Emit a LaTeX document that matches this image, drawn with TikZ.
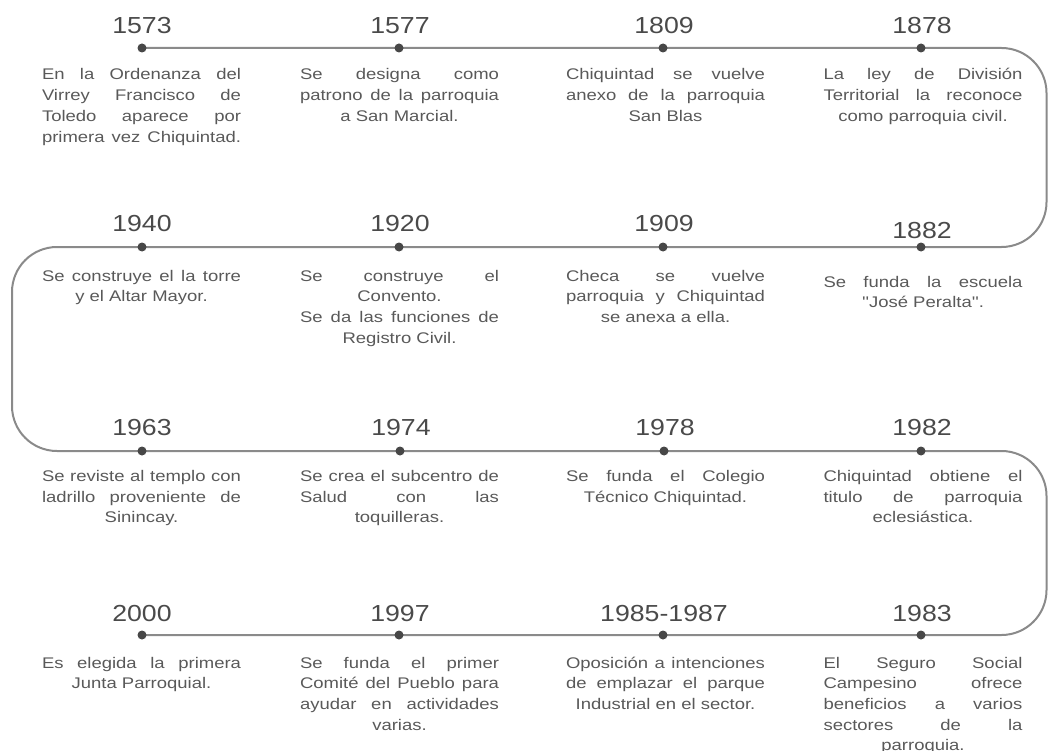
\documentclass[tikz,border=0pt]{standalone}
\usepackage{fontspec}
\newfontfamily\bodyfont[FakeStretch=1.2]{Liberation Sans}
\newfontfamily\yrfont[FakeStretch=1.15]{Liberation Sans}
\newlength{\tw}
\setlength{\tw}{199pt}
\newcommand{\J}[1]{\makebox[\tw][s]{#1}}
\newcommand{\C}[1]{\makebox[\tw][c]{#1}}
\newcommand{\F}{\rule{0pt}{13pt}}
\hbadness=10000
\hfuzz=20pt
\definecolor{linegray}{HTML}{8A8A8A}
\definecolor{dotgray}{HTML}{474747}
\definecolor{yeargray}{HTML}{4A4A4A}
\definecolor{textgray}{HTML}{595959}
\tikzset{
  tl/.style={draw=linegray, line width=2pt, rounded corners=45pt},
  dotnode/.style={circle, fill=dotgray, inner sep=0pt, minimum size=9pt},
  yearnode/.style={anchor=base, inner sep=0pt, text=yeargray, font=\yrfont\fontsize{23.2}{26}\selectfont},
  descnode/.style={anchor=north, inner sep=0pt, outer sep=0pt, align=center, text=textgray, font=\bodyfont\fontsize{15.4}{20.7}\selectfont}
}
\begin{document}
\begin{tikzpicture}[x=1pt,y=-1pt]
\useasboundingbox (0,0) rectangle (1048,751);
% positions
\coordinate (p1) at (142,48);  \coordinate (p2) at (399,48);  \coordinate (p3) at (663,48);  \coordinate (p4) at (921,48);
\coordinate (p5) at (142,247); \coordinate (p6) at (399,247); \coordinate (p7) at (663,247); \coordinate (p8) at (921,247);
\coordinate (p9) at (142,451); \coordinate (p10) at (400,451); \coordinate (p11) at (664,451); \coordinate (p12) at (921,451);
\coordinate (p13) at (142,635); \coordinate (p14) at (399,635); \coordinate (p15) at (663,635); \coordinate (p16) at (921,635);
\coordinate (c1) at (1046.5,48);
\coordinate (c2) at (1046.5,247);
\coordinate (c3) at (12,247);
\coordinate (c4) at (12,451);
\coordinate (c5) at (1046.5,451);
\coordinate (c6) at (1046.5,635);
% timeline
\draw[tl] (p1) -- (c1) -- (c2) -- (c3) -- (c4) -- (c5) -- (c6) -- (p13);
% dots
\foreach \i in {1,...,16} { \node[dotnode] (d\i) at (p\i) {}; }
% years
\node[yearnode] (y1) at (142,33.3) {1573};
\node[yearnode] (y2) at (400,33.3) {1577};
\node[yearnode] (y3) at (664,33.3) {1809};
\node[yearnode] (y4) at (922,33.3) {1878};
\node[yearnode] (y5) at (142,232) {1940};
\node[yearnode] (y6) at (400,232) {1920};
\node[yearnode] (y7) at (664,232) {1909};
\node[yearnode] (y8) at (922,239) {1882};
\node[yearnode] (y9) at (142,435.5) {1963};
\node[yearnode] (y10) at (401,435.5) {1974};
\node[yearnode] (y11) at (665,435.5) {1978};
\node[yearnode] (y12) at (922,435.5) {1982};
\node[yearnode] (y13) at (142,621) {2000};
\node[yearnode] (y14) at (400,621) {1997};
\node[yearnode] (y15) at (664,621) {1985-1987};
\node[yearnode] (y16) at (922,621) {1983};
% descriptions
\node[descnode] (t1) at (141.5,67) {\J{\F En la Ordenanza del}\\\J{Virrey Francisco de}\\\J{Toledo aparece por}\\\J{primera vez Chiquintad.}};
\node[descnode] (t2) at (399.5,67) {\J{\F Se designa como}\\\J{patrono de la parroquia}\\\C{a San Marcial.}};
\node[descnode] (t3) at (665.5,67) {\J{\F Chiquintad se vuelve}\\\J{anexo de la parroquia}\\\C{San Blas}};
\node[descnode] (t4) at (923,67) {\J{\F La ley de División}\\\J{Territorial la reconoce}\\\C{como parroquia civil.}};
\node[descnode] (t5) at (141.5,268) {\J{\F Se construye el la torre}\\\C{y el Altar Mayor.}};
\node[descnode] (t6) at (399.5,268) {\J{\F Se construye el}\\\C{Convento.}\\\J{Se da las funciones de}\\\C{Registro Civil.}};
\node[descnode] (t7) at (665.5,268) {\J{\F Checa se vuelve}\\\J{parroquia y Chiquintad}\\\C{se anexa a ella.}};
\node[descnode] (t8) at (923,274) {\J{\F Se funda la escuela}\\\C{''José Peralta''.}};
\node[descnode] (t9) at (141.5,468.5) {\J{\F Se reviste al templo con}\\\J{ladrillo proveniente de}\\\C{Sinincay.}};
\node[descnode] (t10) at (399.5,468.5) {\J{\F Se crea el subcentro de}\\\J{Salud con las}\\\C{toquilleras.}};
\node[descnode] (t11) at (665.5,468.5) {\J{\F Se funda el Colegio}\\\C{Técnico Chiquintad.}};
\node[descnode] (t12) at (923,468.5) {\J{\F Chiquintad obtiene el}\\\J{titulo de parroquia}\\\C{eclesiástica.}};
\node[descnode] (t13) at (141.5,655) {\J{\F Es elegida la primera}\\\C{Junta Parroquial.}};
\node[descnode] (t14) at (399.5,655) {\J{\F Se funda el primer}\\\J{Comité del Pueblo para}\\\J{ayudar en actividades}\\\C{varias.}};
\node[descnode] (t15) at (665.5,655) {\J{\F Oposición a intenciones}\\\J{de emplazar el parque}\\\C{Industrial en el sector.}};
\node[descnode] (t16) at (923,655) {\J{\F El Seguro Social}\\\J{Campesino ofrece}\\\J{beneficios a varios}\\\J{sectores de la}\\\C{parroquia.}};
\end{tikzpicture}
\end{document}
